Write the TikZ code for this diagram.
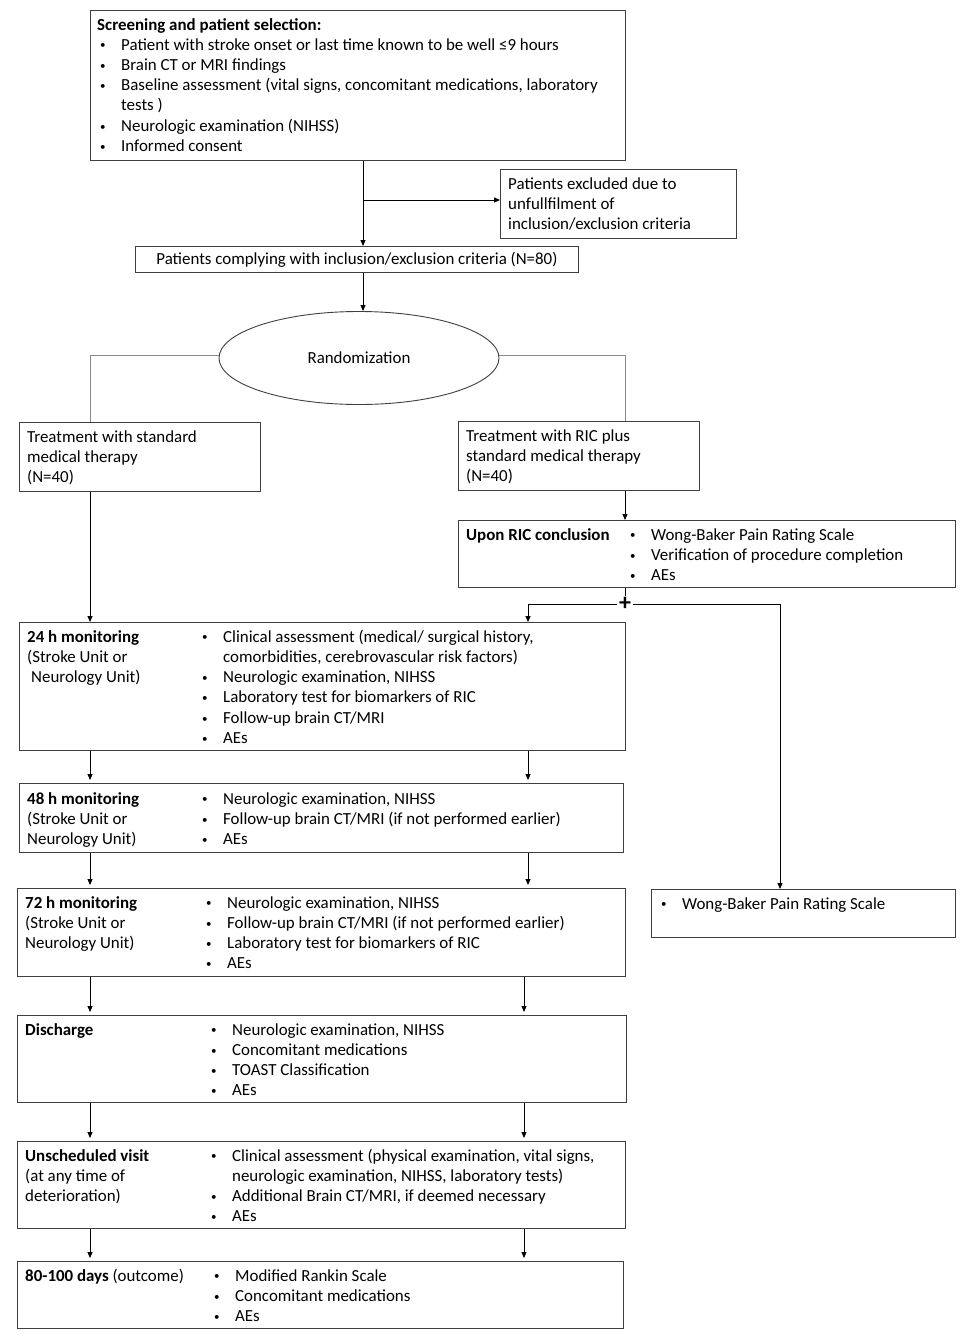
\documentclass[tikz,border=0pt]{standalone}
\usepackage{fontspec}
\setmainfont{Carlito}
\usetikzlibrary{positioning,arrows.meta,shapes.geometric}
\definecolor{boxline}{HTML}{3F3F3F}
\definecolor{linkgray}{HTML}{8A8A8A}
\tikzset{box/.style={draw=boxline,line width=0.9pt,inner sep=0pt,anchor=north west},
	 txt/.style={anchor=base west,inner sep=0pt},
	 arr/.style={-{Triangle[length=6pt,width=5pt]},line width=0.9pt},
	 link/.style={draw=linkgray,line width=0.9pt}
	 }
\newcommand{\textlines}[1]{\begin{tabular}[t]{@{}l@{}}#1\end{tabular}}
\newcommand{\itemrows}[1]{\begin{tabular}[t]{@{}p{22pt}@{}l@{}}#1\end{tabular}}
\newcommand{\bl}{\hspace{1pt}\raisebox{1.2pt}{\fontsize{11}{11}\selectfont\textbullet} &}

\begin{document}
\begin{tikzpicture}[x=1pt,y=-1pt,font=\fontsize{16.9}{20.3}\selectfont] % study flow chart
	\useasboundingbox (0,0) rectangle (971,1339);
	% boxes
	\node[box,minimum width=535,minimum height=150] (scr) at (90,10) {};
	\node[box,minimum width=236,minimum height=69] (exc) at (500,169) {};
	\node[box,minimum width=443,minimum height=26] (cmp) at (135,246) {Patients complying with inclusion/exclusion criteria (N=80)};
	\node[ellipse,draw=boxline,line width=0.9pt,inner sep=0pt,minimum width=280,minimum height=93] (rnd) at (359,358) {Randomization};
	\node[box,minimum width=241,minimum height=69] (std) at (19,422) {};
	\node[box,minimum width=241,minimum height=69] (ric) at (458,421) {};
	\node[box,minimum width=497,minimum height=67] (upn) at (458,520) {};
	\node[box,minimum width=606,minimum height=128] (h24) at (19,622) {};
	\node[box,minimum width=604,minimum height=69] (h48) at (19,783) {};
	\node[box,minimum width=608,minimum height=88] (h72) at (17,888) {};
	\node[box,minimum width=304,minimum height=48] (wbr) at (651,889) {};
	\node[box,minimum width=609,minimum height=87] (dis) at (17,1015) {};
	\node[box,minimum width=608,minimum height=87] (uns) at (17,1141) {};
	\node[box,minimum width=606,minimum height=67] (out) at (17,1261) {};
	% texts
	\node[txt] (scrH) at (97,30) {\textbf{Screening and patient selection:}};
	\node[txt] (scrL) at (99,50) {\itemrows{\bl Patient with stroke onset or last time known to be well ≤9 hours\\
		\bl Brain CT or MRI findings\\ \bl Baseline assessment (vital signs, concomitant medications, laboratory\\
		& tests )\\ \bl Neurologic examination (NIHSS)\\ \bl Informed consent}};
	\node[txt] (excT) at (508,189) {\textlines{Patients excluded due to\\unfullfilment of\\inclusion/exclusion criteria}};
	\node[txt] (stdT) at (27,442) {\textlines{Treatment with standard\\medical therapy\\(N=40)}};
	\node[txt] (ricT) at (466,441) {\textlines{Treatment with RIC plus\\standard medical therapy\\(N=40)}};
	\node[txt] (upnH) at (466,540) {\textbf{Upon RIC conclusion}};
	\node[txt] (upnL) at (629,540) {\itemrows{\bl Wong-Baker Pain Rating Scale\\ \bl Verification of procedure completion\\ \bl AEs}};
	\node[txt] (h24H) at (27,642) {\textlines{\textbf{24 h monitoring}\\(Stroke Unit or\\\hspace{4pt}Neurology Unit)}};
	\node[txt] (h24L) at (201,642) {\itemrows{\bl Clinical assessment (medical/ surgical history,\\
		& comorbidities, cerebrovascular risk factors)\\ \bl Neurologic examination, NIHSS\\
		\bl Laboratory test for biomarkers of RIC\\ \bl Follow-up brain CT/MRI\\ \bl AEs}};
	\node[txt] (h48H) at (27,804) {\textlines{\textbf{48 h monitoring}\\(Stroke Unit or\\Neurology Unit)}};
	\node[txt] (h48L) at (201,804) {\itemrows{\bl Neurologic examination, NIHSS\\
		\bl Follow-up brain CT/MRI (if not performed earlier)\\ \bl AEs}};
	\node[txt] (h72H) at (25,908) {\textlines{\textbf{72 h monitoring}\\(Stroke Unit or\\Neurology Unit)}};
	\node[txt] (h72L) at (205,908) {\itemrows{\bl Neurologic examination, NIHSS\\
		\bl Follow-up brain CT/MRI (if not performed earlier)\\ \bl Laboratory test for biomarkers of RIC\\ \bl AEs}};
	\node[txt] (wbrL) at (660,909) {\itemrows{\bl Wong-Baker Pain Rating Scale}};
	\node[txt] (disH) at (25,1035) {\textbf{Discharge}};
	\node[txt] (disL) at (210,1035) {\itemrows{\bl Neurologic examination, NIHSS\\ \bl Concomitant medications\\
		\bl TOAST Classification\\ \bl AEs}};
	\node[txt] (unsH) at (25,1161) {\textlines{\textbf{Unscheduled visit}\\(at any time of\\deterioration)}};
	\node[txt] (unsL) at (210,1161) {\itemrows{\bl Clinical assessment (physical examination, vital signs,\\
		& neurologic examination, NIHSS, laboratory tests)\\ \bl Additional Brain CT/MRI, if deemed necessary\\ \bl AEs}};
	\node[txt] (outH) at (25,1281) {\textbf{80-100 days} (outcome)};
	\node[txt] (outL) at (213,1281) {\itemrows{\bl Modified Rankin Scale\\ \bl Concomitant medications\\ \bl AEs}};
	% connectors
	\coordinate (c1) at (363,200);
	\coordinate (lx) at (90,0); \coordinate (rx) at (528,0); \coordinate (ry) at (524,0);
	\node[inner sep=1.5pt,font=\fontsize{24}{24}\selectfont\bfseries] (pls) at (625,604) {+};
	\draw[arr] (scr.south -| c1) -- (cmp.north -| c1);
	\draw[arr] (c1) -- (exc.west |- c1);
	\draw[arr] (cmp.south -| c1) -- (c1 |- rnd.north);
	\draw[link] ([yshift=3]rnd.west) -| ([xshift=71]std.north west);
	\draw[link] ([yshift=3]rnd.east) -| ([xshift=167]ric.north west);
	\draw[arr] ([xshift=71]std.south west) -- ([xshift=71]h24.north west);
	\draw[arr] ([xshift=167]ric.south west) -- ([xshift=167]upn.north west);
	\draw[line width=0.9pt] ([xshift=167]upn.south west) -- (pls.north);
	\draw[arr] (pls.west) -| (h24.north -| rx);
	\draw[arr] (pls.east) -| ([xshift=129]wbr.north west);
	\foreach \a/\b/\r in {h24/h48/rx,h48/h72/rx,h72/dis/ry,dis/uns/ry,uns/out/ry}{
		\draw[arr,shorten >=3pt] (\a.south -| lx) -- (\b.north -| lx);
		\draw[arr,shorten >=3pt] (\a.south -| \r) -- (\b.north -| \r);
	}
\end{tikzpicture}
\end{document}
